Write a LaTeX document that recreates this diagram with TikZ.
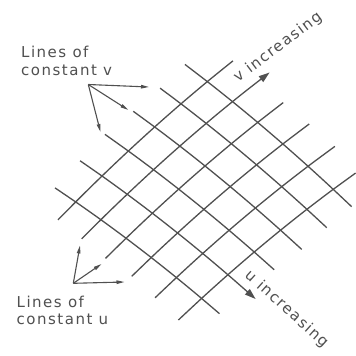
\documentclass[tikz,border=0pt]{standalone}
\usepackage{fontspec}
\setmainfont{DejaVu Sans}
\newfontfamily\labfont[LetterSpace=10]{DejaVu Sans}
\usetikzlibrary{arrows.meta}
\definecolor{ink}{RGB}{80,80,80}
\begin{document}
\begin{tikzpicture}[x=1pt,y=-1pt,
  gridline/.style={draw=ink,line width=1.3pt},
  incarrow/.style={-{Triangle[length=11pt,width=7pt]}},
  labarrow/.style={draw=ink,line width=1.1pt,-{Triangle[length=8pt,width=3.5pt]}},
  lab/.style={text=ink,font=\labfont\fontsize{15}{18}\selectfont,inner sep=0pt,anchor=base west},
  declare function={gx(\p,\q)=204.45+25.18*\p+26.33*\q;
                    gy(\p,\q)=187.56+20.42*\p-22.94*\q+0.38*\p*\p+0.46*\q*\q+0.45*\p*\q;}]
\fill[white] (0,0) rectangle (356,356);
\useasboundingbox (0,0) rectangle (356,356);
% lines of constant v (descending)
\foreach \T/\a/\b in {2.5/-3.39/3.23, 1.5/-3.33/3.29, 0.5/-3.35/3.34, -0.5/-3.43/3.29, -2.5/-3.32/3.21}
  \draw[gridline] plot[smooth,domain=\a:\b,samples=8] ({gx(\x,\T)},{gy(\x,\T)});
\draw[gridline,incarrow] plot[smooth,domain=-3.37:3.6,samples=8] ({gx(\x,-1.5)},{gy(\x,-1.5)});
% lines of constant u (ascending)
\foreach \S/\a/\b in {-2.5/-3.17/3.475, -0.5/-3.28/3.47, 0.5/-3.24/3.5, 1.5/-3.31/3.52, 2.5/-3.38/3.35}
  \draw[gridline] plot[smooth,domain=\a:\b,samples=8] ({gx(\S,\x)},{gy(\S,\x)});
\draw[gridline,incarrow] plot[smooth,domain=-3.23:3.91,samples=8] ({gx(-1.5,\x)},{gy(-1.5,\x)});
% labels
\node[lab] (cv1) at (21,57.5) {Lines of};
\node[lab] (cv2) at (21,75.5) {constant v};
\node[lab] (cu1) at (16.5,307.5) {Lines of};
\node[lab] (cu2) at (16.5,324.5) {constant u};
\node[lab,rotate=37] (vinc) at (238,83) {v increasing};
\node[lab,rotate=-42] (uinc) at (244,276.5) {u increasing};
% label arrows
\coordinate (vsrc) at (88.3,84.5);
\coordinate (vt1) at (149,87);
\coordinate (vt2) at (128.3,110);
\coordinate (vt3) at (100.5,132);
\coordinate (usrc) at (73.3,283.3);
\coordinate (ut1) at (80,245.5);
\coordinate (ut2) at (101.5,264);
\coordinate (ut3) at (124.5,282);
\foreach \t in {vt1,vt2,vt3} \draw[labarrow] (vsrc) -- (\t);
\foreach \t in {ut1,ut2,ut3} \draw[labarrow] (usrc) -- (\t);
\end{tikzpicture}
\end{document}
